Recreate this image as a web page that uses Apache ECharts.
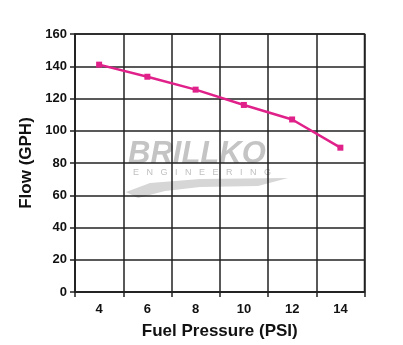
<!DOCTYPE html>
<html><head><meta charset="utf-8">
<script src="https://cdn.jsdelivr.net/npm/echarts@6/dist/echarts.min.js"></script>
<style>html,body{margin:0;padding:0;background:#fff}#c{width:403px;height:345px}</style>
</head><body><div id="c"></div>
<script>
var categories = ['4','6','8','10','12','14'];
var flowValues = [141, 133.5, 125.5, 116, 107, 89.5];
var yTicks = [0,20,40,60,80,100,120,140,160];

var chart = echarts.init(document.getElementById('c'));
chart.setOption({
  animation: false,
  backgroundColor: '#fff',
  grid: {left: 75, right: 38.5, top: 34, bottom: 50, show: true, borderColor: '#222', borderWidth: 1.5, backgroundColor: 'transparent'},
  graphic: [
    {type: 'polygon', z: 0, shape: {points: [[126,192],[150,183],[200,179],[288,178],[258,186],[200,187],[165,191],[138,198]]}, style: {fill: '#d6d6d6'}},
    {type: 'text', z: 0, left: 128, top: 139, style: {text: 'BRILLKO', font: 'italic 900 31px "Liberation Sans", Arial, sans-serif', fill: '#c4c4c4', letterSpacing: 3}},
    {type: 'text', z: 0, left: 133, top: 168, style: {text: 'E   N   G   I   N   E   E   R   I   N   G', font: '9px "Liberation Sans", Arial, sans-serif', fill: '#c0c0c0'}}
  ],
  xAxis: {
    type: 'category', data: categories, boundaryGap: true,
    name: 'Fuel Pressure (PSI)', nameLocation: 'middle', nameGap: 31,
    nameTextStyle: {fontSize: 17, fontWeight: 'bold', color: '#111', fontFamily: 'Liberation Sans, Arial, sans-serif'},
    axisLine: {lineStyle: {color: '#222', width: 1.5}},
    axisTick: {show: true, length: 5, lineStyle: {color: '#222', width: 1.5}},
    axisLabel: {fontSize: 13, fontWeight: 'bold', color: '#111', margin: 11, fontFamily: 'Liberation Sans, Arial, sans-serif'},
    splitLine: {show: true, lineStyle: {color: '#222', width: 1.5}}
  },
  yAxis: {
    type: 'value', min: 0, max: 160, interval: 20,
    name: 'Flow (GPH)', nameLocation: 'middle', nameGap: 39,
    nameTextStyle: {fontSize: 17, fontWeight: 'bold', color: '#111', fontFamily: 'Liberation Sans, Arial, sans-serif'},
    axisLine: {show: true, lineStyle: {color: '#222', width: 1.5}},
    axisTick: {show: true, length: 5, lineStyle: {color: '#222', width: 1.5}},
    axisLabel: {fontSize: 13, fontWeight: 'bold', color: '#111', margin: 8, fontFamily: 'Liberation Sans, Arial, sans-serif'},
    splitLine: {show: true, lineStyle: {color: '#222', width: 1.5}}
  },
  series: [{
    type: 'line', data: flowValues, z: 5,
    symbol: 'rect', symbolSize: 6,
    lineStyle: {color: '#e0218a', width: 2.5},
    itemStyle: {color: '#e0218a'}
  }]
});
</script></body></html>
